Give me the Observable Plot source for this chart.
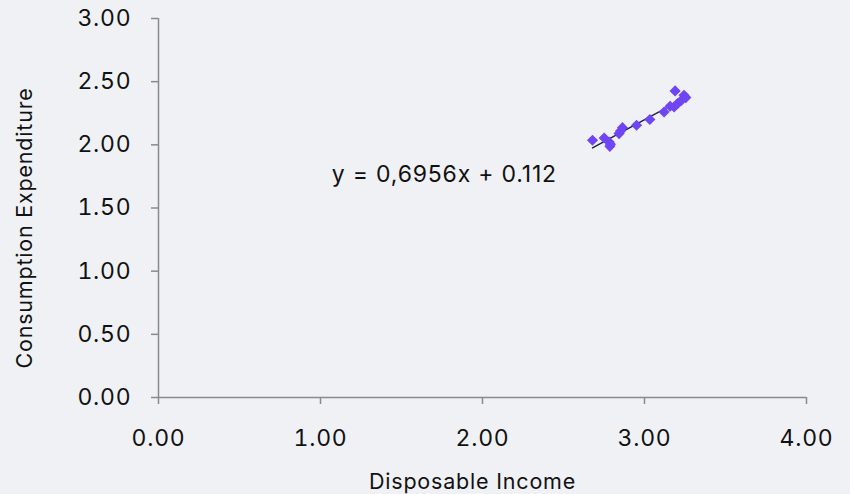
<!DOCTYPE html>
<html>
<head>
<meta charset="utf-8">
<script src="https://cdn.jsdelivr.net/npm/d3@7"></script>
<script src="https://cdn.jsdelivr.net/npm/@observablehq/plot@0.6"></script>
<style>
  html, body { margin: 0; padding: 0; background: #f0f1f5; }
  #chart svg { display: block; }
</style>
</head>
<body>
<div id="chart"></div>
<script>
// Observations: disposable income (x) vs consumption expenditure (y)
const income = [2.679, 2.751, 2.782, 2.786, 2.790, 2.843, 2.852, 2.864, 2.951, 3.033, 3.121, 3.158, 3.189, 3.183, 3.204, 3.224, 3.244, 3.255];
const consumption = [2.036, 2.054, 2.022, 1.988, 2.005, 2.089, 2.110, 2.136, 2.155, 2.200, 2.260, 2.305, 2.427, 2.300, 2.327, 2.347, 2.393, 2.374];

// Linear trend line coefficients (as printed on the chart)
const slope = 0.6956;
const intercept = 0.112;
const equationLabel = ["y = 0,6956x + 0.112"];
const equationAt = [{x: 1.07, y: 1.766}];

const xTicks = [0, 1, 2, 3, 4];
const yTicks = [0, 0.5, 1, 1.5, 2, 2.5, 3];
const xTitle = ["Disposable Income"];
const yTitle = ["Consumption Expenditure"];

const points = income.map((x, i) => ({x, y: consumption[i]}));
const xMin = d3.min(income), xMax = d3.max(income);
const trend = [xMin, xMax].map(x => ({x, y: slope * x + intercept}));

const font = "Inter, 'Liberation Sans', sans-serif";
const fmt = d3.format(".2f");

const chart = Plot.plot({
  width: 850,
  height: 494,
  marginLeft: 158,
  marginRight: 44,
  marginTop: 18,
  marginBottom: 97,
  style: {background: "#f0f1f5", fontFamily: font, color: "#111", letterSpacing: "0.8px"},
  x: {domain: [0, 4], ticks: xTicks, label: null},
  y: {domain: [0, 3], ticks: yTicks, label: null},
  marks: [
    Plot.ruleY([0], {stroke: "#8a8a8a", strokeWidth: 1.5}),
    Plot.ruleX([0], {stroke: "#8a8a8a", strokeWidth: 1.5}),
    Plot.axisX({ticks: xTicks, tickFormat: fmt, tickSize: 7, tickPadding: 25, stroke: "#8a8a8a", strokeWidth: 1.5, fontSize: 23, fill: "#111", label: null}),
    Plot.axisY({ticks: yTicks, tickFormat: fmt, tickSize: 7, tickPadding: 20, stroke: "#8a8a8a", strokeWidth: 1.5, fontSize: 23, fill: "#111", label: null}),
    Plot.line(trend, {x: "x", y: "y", stroke: "#15233d", strokeWidth: 1.4}),
    Plot.dot(points, {x: "x", y: "y", symbol: "diamond2", r: 5, fill: "#6f45f5", stroke: "none"}),
    Plot.text(equationAt, {x: "x", y: "y", text: () => equationLabel[0], textAnchor: "start", fontSize: 23, fill: "#111"}),
    Plot.text(xTitle, {frameAnchor: "bottom", textAnchor: "middle", lineAnchor: "middle", dx: -10, dy: 85, fontSize: 21.5, fill: "#111"}),
    Plot.text(yTitle, {frameAnchor: "left", textAnchor: "middle", lineAnchor: "middle", dx: -133, dy: 20, rotate: -90, fontSize: 21.5, fill: "#111"})
  ]
});
document.getElementById("chart").appendChild(chart);
</script>
</body>
</html>
